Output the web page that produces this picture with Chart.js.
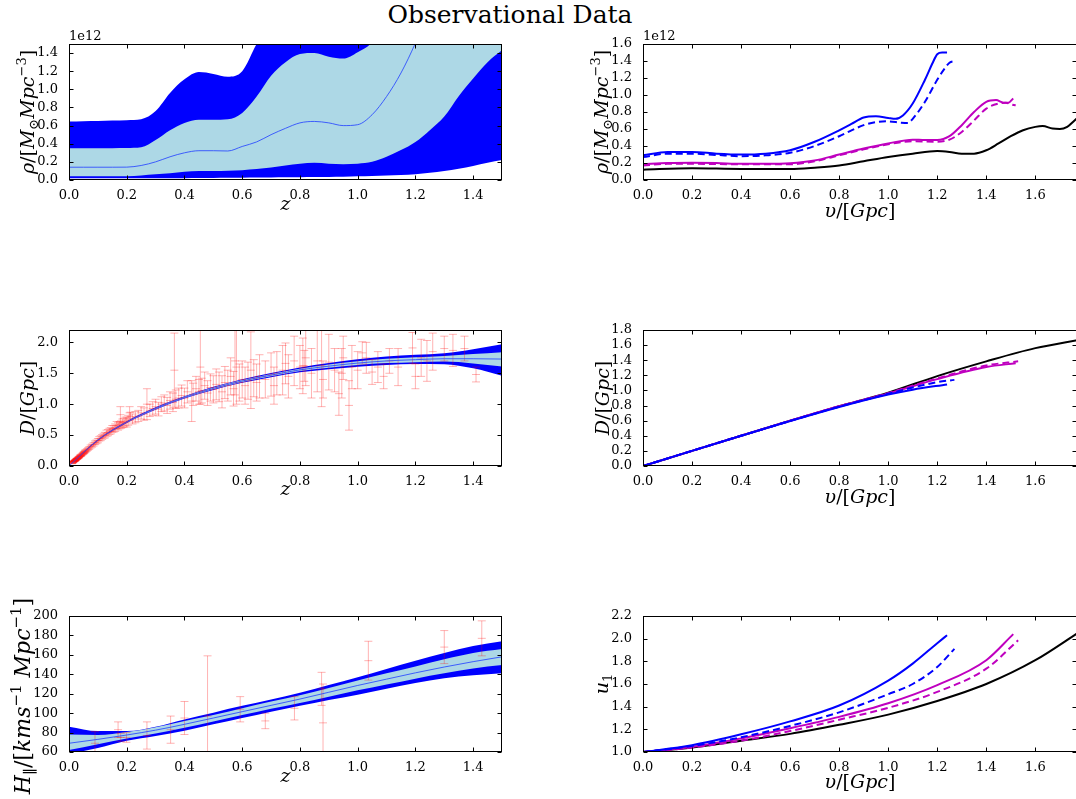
<!DOCTYPE html>
<html lang="en">
<head>
<meta charset="UTF-8" />
<title>Observational Data</title>
<script src="https://cdn.jsdelivr.net/npm/chart.js"></script>
<style>
  body { margin: 0; background: #fff; overflow: hidden; width: 1076px; height: 799px; position: relative; }
  h1 { position: absolute; top: 1px; left: 0; width: 1020px; margin: 0; text-align: center;
       font: normal 25px/28px "DejaVu Serif", serif; color: #000; }
  canvas { position: absolute; }
</style>
</head>
<body>
<h1>Observational Data</h1>
<canvas id="rhoZ" width="510" height="200" style="left:0;top:30px"></canvas>
<canvas id="rhoV" width="520" height="200" style="left:560px;top:30px"></canvas>
<canvas id="dZ" width="510" height="200" style="left:0;top:316px"></canvas>
<canvas id="dV" width="520" height="200" style="left:560px;top:316px"></canvas>
<canvas id="hZ" width="510" height="209" style="left:0;top:590px"></canvas>
<canvas id="uV" width="520" height="209" style="left:560px;top:590px"></canvas>

<script>
// density reconstruction vs redshift (values in units of 1e12)
const zGrid = [0, 0.05, 0.1, 0.15, 0.2, 0.25, 0.3, 0.35, 0.4, 0.45, 0.5, 0.55, 0.6, 0.65, 0.7, 0.75,
               0.8, 0.85, 0.9, 0.95, 1.0, 1.05, 1.1, 1.15, 1.2, 1.25, 1.3, 1.35, 1.4, 1.45, 1.5];
const rhoOuterHi = [0.645, 0.648, 0.65, 0.655, 0.66, 0.67, 0.76, 0.96, 1.11, 1.19, 1.17, 1.14, 1.2, 1.5, 1.75, 1.95,
                    2.1, 2.2, 2.2, 2.25, 2.3, 2.4, 2.5, 2.6, 2.7, 2.8, 2.9, 3.0, 3.1, 3.2, 3.3];
const rhoInnerHi = [0.35, 0.35, 0.35, 0.35, 0.352, 0.36, 0.44, 0.55, 0.63, 0.665, 0.665, 0.67, 0.74, 0.92, 1.15, 1.3,
                    1.39, 1.4, 1.36, 1.34, 1.41, 1.52, 1.8, 2.0, 2.2, 2.4, 2.6, 2.8, 3.0, 3.2, 3.4];
const rhoMid = [0.141, 0.141, 0.141, 0.141, 0.142, 0.16, 0.2, 0.256, 0.3, 0.323, 0.323, 0.32, 0.37, 0.42, 0.5, 0.57,
                0.63, 0.646, 0.63, 0.6, 0.61, 0.72, 0.92, 1.18, 1.51, 1.9, 2.3, 2.7, 3.1, 3.5, 3.9];
const rhoInnerLo = [0.04, 0.04, 0.04, 0.04, 0.04, 0.05, 0.063, 0.075, 0.09, 0.1, 0.1, 0.102, 0.108, 0.12, 0.137, 0.16,
                    0.18, 0.19, 0.18, 0.175, 0.18, 0.2, 0.256, 0.33, 0.42, 0.55, 0.7, 0.925, 1.12, 1.3, 1.43];
const rhoOuterLo = [0.02, 0.02, 0.02, 0.02, 0.02, 0.02, 0.02, 0.02, 0.02, 0.022, 0.023, 0.024, 0.025, 0.027, 0.028, 0.03,
                    0.03, 0.032, 0.034, 0.036, 0.04, 0.045, 0.05, 0.056, 0.063, 0.08, 0.1, 0.125, 0.155, 0.19, 0.22];

// density along the past light cone for the three models
const vBlue = [0, 0.1, 0.2, 0.3, 0.4, 0.5, 0.6, 0.7, 0.8, 0.85, 0.9, 0.95, 1.0, 1.03, 1.06, 1.1, 1.15, 1.18, 1.2, 1.22, 1.24];
const rhoBlue = [0.29, 0.33, 0.33, 0.31, 0.3, 0.31, 0.35, 0.45, 0.585, 0.66, 0.735, 0.75, 0.73, 0.72, 0.76, 0.9, 1.18, 1.37, 1.48, 1.5, 1.5];
const vBlueDash = [0, 0.1, 0.2, 0.3, 0.4, 0.5, 0.6, 0.7, 0.8, 0.9, 0.95, 1.0, 1.05, 1.08, 1.1, 1.15, 1.2, 1.23, 1.25, 1.27];
const rhoBlueDash = [0.27, 0.31, 0.31, 0.295, 0.28, 0.29, 0.32, 0.4, 0.515, 0.645, 0.68, 0.69, 0.675, 0.67, 0.72, 0.92, 1.18, 1.31, 1.38, 1.4];
const vMag = [0, 0.1, 0.2, 0.3, 0.4, 0.5, 0.6, 0.7, 0.8, 0.9, 1.0, 1.1, 1.15, 1.2, 1.25, 1.3, 1.35, 1.4, 1.44, 1.47, 1.49, 1.51];
const rhoMag = [0.185, 0.2, 0.204, 0.2, 0.19, 0.19, 0.197, 0.23, 0.3, 0.37, 0.43, 0.475, 0.47, 0.47, 0.515, 0.645, 0.8, 0.92, 0.94, 0.91, 0.91, 0.96];
const vMagDash = [0, 0.1, 0.2, 0.4, 0.6, 0.7, 0.8, 0.9, 1.0, 1.1, 1.2, 1.25, 1.3, 1.35, 1.4, 1.45, 1.48, 1.5, 1.52];
const rhoMagDash = [0.17, 0.19, 0.19, 0.185, 0.185, 0.22, 0.29, 0.36, 0.42, 0.455, 0.45, 0.475, 0.565, 0.7, 0.84, 0.9, 0.91, 0.89, 0.88];
const vBlack = [0, 0.2, 0.4, 0.6, 0.7, 0.8, 0.9, 1.0, 1.1, 1.2, 1.25, 1.3, 1.35, 1.4, 1.45, 1.5, 1.55, 1.6, 1.63, 1.67, 1.7, 1.73, 1.76, 1.78];
const rhoBlack = [0.122, 0.138, 0.13, 0.13, 0.145, 0.17, 0.22, 0.27, 0.31, 0.34, 0.33, 0.31, 0.31, 0.35, 0.43, 0.515, 0.585, 0.625, 0.635, 0.605, 0.6, 0.625, 0.7, 0.75];

// distance vs redshift: fitted bands and supernova points
const zBand = [0, 0.1, 0.2, 0.3, 0.4, 0.5, 0.6, 0.7, 0.8, 0.9, 1.0, 1.1, 1.2, 1.3, 1.4, 1.5];
const dOuterHi = [0, 0.43, 0.725, 0.95, 1.13, 1.28, 1.405, 1.505, 1.595, 1.665, 1.725, 1.77, 1.8, 1.825, 1.89, 1.97];
const dInnerHi = [0, 0.425, 0.717, 0.94, 1.12, 1.268, 1.39, 1.488, 1.575, 1.64, 1.695, 1.735, 1.76, 1.78, 1.81, 1.84];
const dMid = [0, 0.42, 0.71, 0.93, 1.11, 1.255, 1.375, 1.47, 1.555, 1.615, 1.665, 1.7, 1.72, 1.735, 1.735, 1.73];
const dInnerLo = [0, 0.415, 0.703, 0.92, 1.1, 1.242, 1.36, 1.452, 1.535, 1.59, 1.635, 1.665, 1.68, 1.69, 1.66, 1.61];
const dOuterLo = [0, 0.41, 0.695, 0.91, 1.09, 1.23, 1.345, 1.435, 1.515, 1.565, 1.605, 1.635, 1.65, 1.645, 1.58, 1.46];

const snZ = [0.01, 0.012, 0.014, 0.015, 0.016, 0.018, 0.019, 0.02, 0.021, 0.022, 0.024, 0.025, 0.026, 0.028, 0.029,
  0.03, 0.032, 0.033, 0.035, 0.036, 0.038, 0.04, 0.042, 0.043, 0.046, 0.048, 0.05, 0.052, 0.054, 0.056, 0.058,
  0.062, 0.066, 0.07, 0.075, 0.08, 0.085, 0.09, 0.095, 0.1, 0.105, 0.11, 0.115, 0.12, 0.125, 0.13, 0.135, 0.14, 0.145,
  0.15, 0.155, 0.16, 0.165, 0.17, 0.175, 0.178, 0.18, 0.185, 0.19, 0.195, 0.2, 0.205, 0.21, 0.213, 0.22, 0.23, 0.24,
  0.25, 0.26, 0.27, 0.28, 0.29, 0.3, 0.31, 0.32, 0.33, 0.34, 0.35, 0.36, 0.365, 0.37, 0.38, 0.39, 0.4, 0.41, 0.425,
  0.43, 0.44, 0.45, 0.455, 0.46, 0.47, 0.48, 0.49, 0.5, 0.51, 0.52, 0.53, 0.54, 0.55, 0.56, 0.57, 0.575, 0.58, 0.59,
  0.6, 0.61, 0.62, 0.63, 0.64, 0.65, 0.66, 0.68, 0.7, 0.71, 0.72, 0.74, 0.75, 0.76, 0.78, 0.8, 0.81, 0.815, 0.82,
  0.84, 0.86, 0.875, 0.88, 0.9, 0.92, 0.935, 0.945, 0.95, 0.97, 0.98, 1.0, 1.016, 1.03, 1.05, 1.07, 1.09, 1.11,
  1.14, 1.19, 1.2, 1.22, 1.24, 1.26, 1.3, 1.33, 1.37, 1.41];
const snD = [0.04, 0.05, 0.06, 0.065, 0.075, 0.075, 0.08, 0.085, 0.095, 0.09, 0.1, 0.105, 0.115, 0.115, 0.12,
  0.125, 0.135, 0.135, 0.145, 0.15, 0.165, 0.165, 0.17, 0.18, 0.19, 0.2, 0.21, 0.215, 0.225, 0.24, 0.245,
  0.26, 0.275, 0.29, 0.315, 0.33, 0.35, 0.375, 0.39, 0.41, 0.44, 0.45, 0.47, 0.49, 0.5, 0.53, 0.54, 0.56, 0.57,
  0.6, 0.6, 0.62, 0.66, 0.64, 0.66, 0.83, 0.67, 0.69, 0.7, 0.72, 0.71, 0.74, 0.86, 0.8, 0.76, 0.79, 0.81,
  0.86, 0.84, 1.0, 0.9, 0.93, 0.96, 0.92, 1.0, 1.02, 0.98, 1.06, 1.03, 1.55, 1.08, 1.1, 1.14, 1.1, 1.2, 1.05,
  1.16, 1.25, 1.2, 1.6, 1.22, 1.3, 1.18, 1.27, 1.24, 1.32, 1.28, 1.2, 1.35, 1.3, 1.45, 1.25, 1.7, 1.6, 1.35,
  1.4, 1.3, 1.38, 1.55, 1.42, 1.35, 1.45, 1.4, 1.48, 1.3, 1.5, 1.55, 1.66, 1.45, 1.7, 1.6, 1.62, 1.62, 1.75,
  1.5, 1.7, 1.62, 1.4, 1.68, 1.55, 1.17, 1.5, 1.75, 0.98, 1.6, 1.55, 1.83, 1.75, 1.52, 1.6, 1.45, 1.7,
  1.6, 1.91, 1.45, 1.75, 1.7, 1.85, 1.9, 1.87, 1.9, 1.48];
const snErr = [0.004, 0.004, 0.005, 0.005, 0.005, 0.005, 0.006, 0.006, 0.006, 0.006, 0.007, 0.007, 0.007, 0.008, 0.008,
  0.008, 0.009, 0.01, 0.01, 0.01, 0.011, 0.012, 0.012, 0.012, 0.014, 0.014, 0.015, 0.015, 0.016, 0.016, 0.018,
  0.02, 0.02, 0.022, 0.025, 0.025, 0.028, 0.03, 0.03, 0.035, 0.035, 0.04, 0.04, 0.04, 0.045, 0.05, 0.05, 0.05, 0.05,
  0.055, 0.05, 0.06, 0.06, 0.06, 0.06, 0.13, 0.06, 0.07, 0.07, 0.07, 0.08, 0.08, 0.1, 0.07, 0.08, 0.09, 0.09,
  0.1, 0.1, 0.25, 0.1, 0.11, 0.12, 0.11, 0.12, 0.13, 0.13, 0.14, 0.15, 0.6, 0.15, 0.16, 0.17, 0.16, 0.18, 0.33,
  0.18, 0.2, 0.2, 0.6, 0.2, 0.22, 0.2, 0.22, 0.22, 0.25, 0.24, 0.26, 0.26, 0.25, 0.3, 0.28, 0.55, 0.6, 0.3,
  0.3, 0.3, 0.3, 0.62, 0.3, 0.3, 0.35, 0.3, 0.35, 0.3, 0.35, 0.4, 0.33, 0.35, 0.4, 0.35, 0.45, 0.25, 0.45,
  0.4, 0.5, 0.66, 0.3, 0.45, 0.35, 0.35, 0.4, 0.35, 0.4, 0.35, 0.3, 0.18, 0.25, 0.2, 0.25, 0.2, 0.2,
  0.3, 0.25, 0.2, 0.3, 0.33, 0.3, 0.2, 0.26, 0.2, 0.12];

// distance along the light cone
const vDBlack = [0, 0.2, 0.4, 0.6, 0.8, 1.0, 1.2, 1.4, 1.6, 1.78];
const dBlack = [0, 0.2, 0.4, 0.6, 0.79, 0.97, 1.19, 1.385, 1.56, 1.67];
const vDMag = [0, 0.4, 0.8, 1.0, 1.2, 1.4, 1.52];
const dMag = [0, 0.4, 0.79, 0.96, 1.15, 1.31, 1.36];
const vDMagDash = [0, 0.4, 0.8, 1.0, 1.2, 1.4, 1.53];
const dMagDash = [0, 0.4, 0.79, 0.965, 1.16, 1.33, 1.385];
const vDBlue = [0, 0.4, 0.8, 1.0, 1.1, 1.24];
const dBlue = [0, 0.4, 0.78, 0.945, 1.01, 1.08];
const vDBlueDash = [0, 0.4, 0.8, 1.0, 1.2, 1.27];
const dBlueDash = [0, 0.4, 0.785, 0.955, 1.11, 1.14];

// longitudinal expansion rate vs redshift
const hOuterHi = [86, 81.5, 81.5, 86, 93.5, 100.5, 107.5, 114, 121, 129, 137, 145.5, 154, 162, 169, 174];
const hInnerHi = [78, 77.5, 80.5, 85.5, 92, 98, 105, 112, 118.5, 126, 133.5, 141, 148, 155.5, 162, 166];
const hMid = [69, 73, 77.5, 82.5, 88.5, 95, 101.5, 108, 114.5, 121.5, 128.5, 135, 141.5, 147.5, 153, 158];
const hInnerLo = [62, 68, 74, 79, 85, 91.5, 98, 104.5, 110.5, 117, 123.5, 129.5, 135.5, 141, 146, 149.5];
const hOuterLo = [58, 64, 71.5, 76.5, 82, 88.5, 95, 101.5, 107.5, 113.5, 119, 125, 131, 136, 139, 141];
const ohdZ = [0.09, 0.17, 0.179, 0.199, 0.27, 0.352, 0.4, 0.48, 0.593, 0.68, 0.781, 0.875, 0.88, 1.037, 1.3, 1.43];
const ohdH = [69, 83, 75, 75, 77, 83, 95, 97, 104, 92, 105, 125, 90, 154, 168, 177];
const ohdErr = [12, 8, 4, 5, 14, 14, 17, 62, 13, 8, 12, 17, 40, 20, 17, 18];

// u1 along the light cone
const vUBlue = [0, 0.2, 0.4, 0.6, 0.8, 1.0, 1.1, 1.2, 1.24];
const uBlue = [1.0, 1.06, 1.156, 1.27, 1.41, 1.63, 1.78, 1.96, 2.03];
const vUBlueDash = [0, 0.2, 0.4, 0.6, 0.8, 1.0, 1.1, 1.2, 1.27];
const uBlueDash = [1.0, 1.053, 1.13, 1.23, 1.35, 1.51, 1.6, 1.75, 1.91];
const vUMag = [0, 0.2, 0.4, 0.6, 0.8, 1.0, 1.2, 1.4, 1.51];
const uMag = [1.0, 1.044, 1.12, 1.21, 1.31, 1.43, 1.59, 1.81, 2.04];
const vUMagDash = [0, 0.2, 0.4, 0.6, 0.8, 1.0, 1.2, 1.4, 1.53];
const uMagDash = [1.0, 1.04, 1.1, 1.185, 1.285, 1.39, 1.53, 1.735, 1.985];
const vUBlack = [0, 0.2, 0.4, 0.6, 0.8, 1.0, 1.2, 1.4, 1.6, 1.78];
const uBlack = [1.0, 1.04, 1.1, 1.16, 1.24, 1.33, 1.45, 1.6, 1.81, 2.06];

// axis labels as [text, style] pieces: i = italic, r = upright, sup / sub = small raised / lowered
const zLabel = [['z', 'i']];
const vLabel = [['υ', 'i'], ['/[', 'r'], ['Gpc', 'i'], [']', 'r']];
const rhoLabel = [['ρ', 'i'], ['/[', 'r'], ['M', 'i'], ['⊙', 'sub'], ['Mpc', 'i'], ['−3', 'sup'], [']', 'r']];
const dLabel = [['D', 'i'], ['/[', 'r'], ['Gpc', 'i'], [']', 'r']];
const hLabel = [['H', 'i'], ['∥', 'sub'], ['/[', 'r'], ['kms', 'i'], ['−1', 'sup'], [' Mpc', 'i'], ['−1', 'sup'], [']', 'r']];
const uLabel = [['u', 'i'], ['1', 'sub']];

const BLUE = '#0000ff', LIGHT = '#add8e6', MAG = '#bf00bf', BLACK = '#000000';

Chart.defaults.animation = false;
Chart.defaults.font.family = '"DejaVu Serif", serif';
Chart.defaults.color = '#000';
Chart.defaults.plugins.legend.display = false;
Chart.defaults.plugins.tooltip.enabled = false;

const tickFont = { family: '"DejaVu Serif", serif', size: 13 };

function pieceFont(p, size) {
  const small = p[1] === 'sup' || p[1] === 'sub';
  return (p[1] === 'i' ? 'italic ' : '') + (small ? Math.round(size * 0.7) : size) + 'px "DejaVu Serif", serif';
}

// draws a label centred on x with its baseline on y
function drawRich(ctx, pieces, x, y, size) {
  let total = 0;
  pieces.forEach(p => { ctx.font = pieceFont(p, size); total += ctx.measureText(p[0]).width; });
  let cx = x - total / 2;
  pieces.forEach(p => {
    ctx.font = pieceFont(p, size);
    const dy = p[1] === 'sup' ? -0.42 * size : p[1] === 'sub' ? 0.22 * size : 0;
    ctx.fillText(p[0], cx, y + dy);
    cx += ctx.measureText(p[0]).width;
  });
}

// box around the axes, inward ticks on all four sides, axis labels, offset text
const frame = {
  id: 'frame',
  afterDraw(chart, args, opts) {
    const { ctx, chartArea: a, scales } = chart;
    const L = Math.round(a.left) + 0.5, R = Math.round(a.right) - 0.5;
    const T = Math.round(a.top) + 0.5, B = Math.round(a.bottom) - 0.5;
    ctx.save();
    ctx.strokeStyle = '#000';
    ctx.lineWidth = 1;
    ctx.beginPath();
    scales.x.ticks.forEach(t => {
      const px = Math.round(scales.x.getPixelForValue(t.value)) + 0.5;
      ctx.moveTo(px, B); ctx.lineTo(px, B - 4);
      ctx.moveTo(px, T); ctx.lineTo(px, T + 4);
    });
    scales.y.ticks.forEach(t => {
      const py = Math.round(scales.y.getPixelForValue(t.value)) + 0.5;
      ctx.moveTo(L, py); ctx.lineTo(L + 4, py);
      ctx.moveTo(R, py); ctx.lineTo(R - 4, py);
    });
    ctx.stroke();
    ctx.strokeRect(L, T, R - L, B - T);

    ctx.fillStyle = '#000';
    ctx.textAlign = 'left';
    ctx.textBaseline = 'alphabetic';
    drawRich(ctx, opts.xlabel, (a.left + a.right) / 2, a.bottom + opts.xbase, 19);
    ctx.save();
    ctx.translate(a.left - opts.ybase, (a.top + a.bottom) / 2 + (opts.yshift || 0));
    ctx.rotate(-Math.PI / 2);
    drawRich(ctx, opts.ylabel, 0, 0, opts.ysize || 19);
    ctx.restore();

    if (opts.offset) {
      ctx.font = '13px "DejaVu Serif", serif';
      ctx.textBaseline = 'bottom';
      ctx.fillText(opts.offset, a.left, a.top - 1);
    }
    ctx.restore();
  }
};

function pts(xs, ys) {
  return xs.map((x, i) => ({ x: x, y: ys[i] }));
}

function curve(xs, ys, color, dashed, width) {
  return {
    data: pts(xs, ys), borderColor: color, borderWidth: width || 2,
    borderDash: dashed ? [7, 4] : [], pointRadius: 0, fill: false,
    cubicInterpolationMode: 'monotone'
  };
}

// filled region between two curves
function band(xs, hi, lo, color) {
  return [
    { data: pts(xs, hi), fill: '+1', backgroundColor: color, borderColor: 'rgba(0,0,0,0)',
      borderWidth: 1, pointRadius: 0, cubicInterpolationMode: 'monotone' },
    { data: pts(xs, lo), fill: false, borderColor: 'rgba(0,0,0,0)',
      borderWidth: 1, pointRadius: 0, cubicInterpolationMode: 'monotone' }
  ];
}

// vertical error bars with caps and a centre mark
function errorBars(xs, ys, es, color, cap) {
  const seg = [], marks = [];
  xs.forEach((x, i) => {
    seg.push({ x: x, y: ys[i] - es[i] }, { x: x, y: ys[i] + es[i] }, { x: x, y: null });
    marks.push({ x: x, y: ys[i] - es[i] }, { x: x, y: ys[i] }, { x: x, y: ys[i] + es[i] });
  });
  return [
    { data: seg, borderColor: color, borderWidth: 1, pointRadius: 0, spanGaps: false, fill: false },
    { data: marks, showLine: false, pointStyle: 'line', pointRadius: cap, pointBorderColor: color,
      pointBorderWidth: 1, borderColor: color, fill: false }
  ];
}

function makeChart(id, datasets, o) {
  return new Chart(document.getElementById(id), {
    type: 'line',
    data: { datasets: datasets },
    plugins: [frame],
    options: {
      responsive: false,
      events: [],
      layout: { padding: { top: o.padTop, right: o.padRight, bottom: 0, left: 0 } },
      plugins: {
        frame: { offset: o.offset || '', xlabel: o.xlabel, ylabel: o.ylabel, xbase: o.xbase,
                 ybase: o.ybase, yshift: o.yshift, ysize: o.ysize }
      },
      scales: {
        x: {
          type: 'linear', min: o.xmin, max: o.xmax,
          grid: { display: false }, border: { display: false },
          ticks: { stepSize: 0.2, includeBounds: false, autoSkip: false, maxRotation: 0,
                   padding: 0, color: '#000', font: tickFont, callback: v => v.toFixed(1) },
          afterFit: s => { s.height = o.xh; }
        },
        y: {
          type: 'linear', min: o.ymin, max: o.ymax,
          grid: { display: false }, border: { display: false },
          ticks: { stepSize: o.ystep, includeBounds: false, autoSkip: false, padding: 3,
                   color: '#000', font: tickFont, callback: o.yfmt || (v => v.toFixed(1)) },
          afterFit: s => { s.width = o.yw; }
        }
      }
    }
  });
}

const left = { padRight: 8, yw: 69, xmin: 0, xmax: 1.5, xlabel: zLabel, xbase: 30, ybase: 35 };
const right = { padRight: 3, yw: 83, xmin: 0, xmax: 1.77, xlabel: vLabel, xbase: 37, ybase: 35 };

makeChart('rhoZ', [
  curve(zGrid, rhoMid, 'rgba(40,70,255,0.85)', false, 1),
  ...band(zGrid, rhoInnerHi, rhoInnerLo, LIGHT),
  ...band(zGrid, rhoOuterHi, rhoOuterLo, BLUE)
], Object.assign({}, left, { ymin: 0, ymax: 1.5, ystep: 0.2, offset: '1e12', padTop: 14, xh: 50,
  ylabel: rhoLabel }));

makeChart('rhoV', [
  curve(vBlue, rhoBlue, BLUE, false),
  curve(vBlueDash, rhoBlueDash, BLUE, true),
  curve(vMag, rhoMag, MAG, false),
  curve(vMagDash, rhoMagDash, MAG, true),
  curve(vBlack, rhoBlack, BLACK, false)
], Object.assign({}, right, { ymin: 0, ymax: 1.6, ystep: 0.2, offset: '1e12', padTop: 14, xh: 50,
  ylabel: rhoLabel }));

makeChart('dZ', [
  curve(zBand, dMid, 'rgba(40,70,255,0.85)', false, 1),
  ...errorBars(snZ, snD, snErr, 'rgba(255,0,0,0.3)', 4),
  ...band(zBand, dInnerHi, dInnerLo, LIGHT),
  ...band(zBand, dOuterHi, dOuterLo, BLUE)
], Object.assign({}, left, { ymin: 0, ymax: 2.2, ystep: 0.5, padTop: 14, xh: 50, xbase: 29,
  ylabel: dLabel }));

makeChart('dV', [
  curve(vDBlue, dBlue, BLUE, false),
  curve(vDBlueDash, dBlueDash, BLUE, true),
  curve(vDMag, dMag, MAG, false),
  curve(vDMagDash, dMagDash, MAG, true),
  curve(vDBlack, dBlack, BLACK, false)
], Object.assign({}, right, { ymin: 0, ymax: 1.8, ystep: 0.2, padTop: 14, xh: 50, ybase: 34,
  ylabel: dLabel }));

makeChart('hZ', [
  curve(zBand, hMid, 'rgba(40,70,255,0.85)', false, 1),
  ...errorBars(ohdZ, ohdH, ohdErr, 'rgba(255,0,0,0.3)', 4),
  ...band(zBand, hInnerHi, hInnerLo, LIGHT),
  ...band(zBand, hOuterHi, hOuterLo, BLUE)
], Object.assign({}, left, { ymin: 60, ymax: 200, ystep: 20, yfmt: v => String(v), padTop: 26, xh: 47,
  ybase: 39, yshift: 12, ysize: 22, ylabel: hLabel }));

makeChart('uV', [
  curve(vUBlue, uBlue, BLUE, false),
  curve(vUBlueDash, uBlueDash, BLUE, true),
  curve(vUMag, uMag, MAG, false),
  curve(vUMagDash, uMagDash, MAG, true),
  curve(vUBlack, uBlack, BLACK, false)
], Object.assign({}, right, { ymin: 1.0, ymax: 2.2, ystep: 0.2, padTop: 26, xh: 47, xbase: 36,
  ylabel: uLabel }));
</script>
</body>
</html>
